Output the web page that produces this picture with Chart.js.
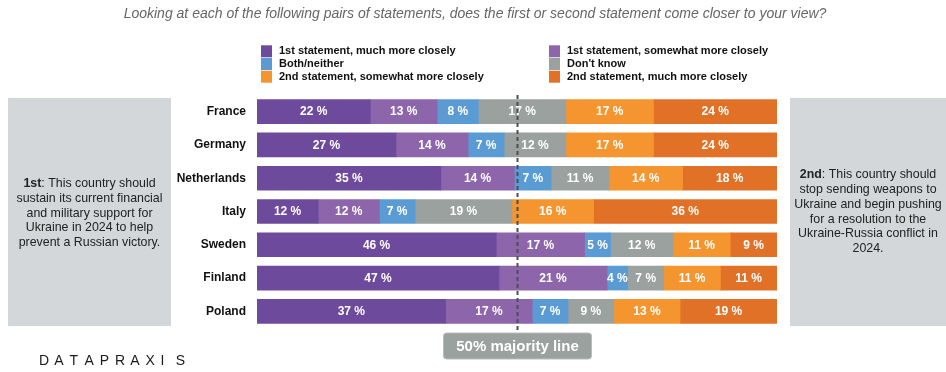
<!DOCTYPE html>
<html>
<head>
<meta charset="utf-8">
<script src="https://cdn.jsdelivr.net/npm/chart.js@4"></script>
<style>
  body { margin: 0; background: #fff; }
  #wrap { width: 946px; height: 372px; }
</style>
</head>
<body>
<div id="wrap"><canvas id="chart" width="946" height="372"></canvas></div>
<script>
const countries = ["France", "Germany", "Netherlands", "Italy", "Sweden", "Finland", "Poland"];
const firstMuch = [22, 27, 35, 12, 46, 47, 37];
const firstSomewhat = [13, 14, 14, 12, 17, 21, 17];
const bothNeither = [8, 7, 7, 7, 5, 4, 7];
const dontKnow = [17, 12, 11, 19, 12, 7, 9];
const secondSomewhat = [17, 17, 14, 16, 11, 11, 13];
const secondMuch = [24, 24, 18, 36, 9, 11, 19];

const seriesLabels = [
	"1st statement, much more closely",
	"1st statement, somewhat more closely",
	"Both/neither",
	"Don't know",
	"2nd statement, somewhat more closely",
	"2nd statement, much more closely",
];
const seriesColors = ["#6e4a9c", "#8d65ab", "#5b9bd4", "#9aa19f", "#f5952f", "#e07127"];

const FONT = "'Liberation Sans', Arial, Helvetica, sans-serif";
const allSeries = [firstMuch, firstSomewhat, bothNeither, dontKnow, secondSomewhat, secondMuch];

// rows don't sum to exactly 100, so each bar is stretched to full width
const totals = countries.map((_, i) => allSeries.reduce((s, arr) => s + arr[i], 0));

const datasets = allSeries.map((arr, k) => ({
	label: seriesLabels[k],
	data: arr.map((v, i) => (v / totals[i]) * 100),
	raw: arr,
	backgroundColor: seriesColors[k],
	borderWidth: 0,
	barThickness: 24,
}));

const leftText = ["This country should", "sustain its current financial", "and military support for", "Ukraine in 2024 to help", "prevent a Russian victory."];
const rightText = ["This country should", "stop sending weapons to", "Ukraine and begin pushing", "for a resolution to the", "Ukraine-Russia conflict in", "2024."];

function drawBoxText(ctx, lines, lead, cx, y0, lh) {
	const size = "12.4px ";
	ctx.fillStyle = "#222";
	ctx.textBaseline = "middle";
	lines.forEach((line, i) => {
		const y = y0 + i * lh;
		if (i === 0) {
			ctx.font = "bold " + size + FONT;
			const w1 = ctx.measureText(lead).width;
			ctx.font = size + FONT;
			const rest = ": " + line;
			const w2 = ctx.measureText(rest).width;
			const x = cx - (w1 + w2) / 2;
			ctx.textAlign = "left";
			ctx.font = "bold " + size + FONT;
			ctx.fillText(lead, x, y);
			ctx.font = size + FONT;
			ctx.fillText(rest, x + w1, y);
		} else {
			ctx.font = size + FONT;
			ctx.textAlign = "center";
			ctx.fillText(line, cx, y);
		}
	});
}

const decor = {
	id: "decor",
	beforeDraw(chart) {
		const ctx = chart.ctx;
		ctx.save();
		// title
		ctx.fillStyle = "#666";
		ctx.font = "italic 14px " + FONT;
		ctx.textAlign = "center";
		ctx.textBaseline = "middle";
		ctx.fillText("Looking at each of the following pairs of statements, does the first or second statement come closer to your view?", 475, 14);

		// legend, two columns
		chart.data.datasets.forEach((ds, i) => {
			const x = i % 2 === 0 ? 261 : 549;
			const y = 51.3 + Math.floor(i / 2) * 12.7;
			ctx.fillStyle = ds.backgroundColor;
			ctx.fillRect(x, y - 6, 11, 12);
			ctx.fillStyle = "#111";
			ctx.font = "bold 11px " + FONT;
			ctx.textAlign = "left";
			ctx.fillText(ds.label, x + 18, y);
		});

		// side boxes
		ctx.fillStyle = "#d3d7da";
		ctx.fillRect(8, 98, 163, 228);
		ctx.fillRect(790, 98, 160, 228);
		drawBoxText(ctx, leftText, "1st", 89.5, 183.5, 14.8);
		drawBoxText(ctx, rightText, "2nd", 868, 175, 14.7);

		// logo
		ctx.fillStyle = "#1a1a1a";
		ctx.font = "14px " + FONT;
		ctx.textAlign = "left";
		"DATAPRAXIS".split("").forEach((c, i) => {
			ctx.fillText(c, 39 + i * 15.2, 361);
		});
		ctx.restore();
	},
	afterDatasetsDraw(chart) {
		const ctx = chart.ctx;
		ctx.save();
		ctx.font = "bold 12px " + FONT;
		ctx.fillStyle = "#fff";
		ctx.textAlign = "center";
		ctx.textBaseline = "middle";
		chart.data.datasets.forEach((ds, k) => {
			chart.getDatasetMeta(k).data.forEach((bar, i) => {
				const cx = (bar.x + bar.base) / 2;
				ctx.fillText(ds.raw[i] + " %", cx, bar.y + 0.5);
			});
		});

		// 50% majority line
		const x50 = Math.round(chart.scales.x.getPixelForValue(50)) + 0.5;
		ctx.strokeStyle = "#4a4f55";
		ctx.lineWidth = 2;
		ctx.setLineDash([4, 3]);
		ctx.beginPath();
		ctx.moveTo(x50, 95);
		ctx.lineTo(x50, 333);
		ctx.stroke();
		ctx.setLineDash([]);

		ctx.fillStyle = "#9aa19f";
		ctx.strokeStyle = "#b9bebd";
		ctx.lineWidth = 1;
		ctx.beginPath();
		ctx.roundRect(x50 - 74, 333, 148, 26, 3);
		ctx.fill();
		ctx.stroke();
		ctx.fillStyle = "#fff";
		ctx.font = "bold 15px " + FONT;
		ctx.fillText("50% majority line", x50, 346.5);
		ctx.restore();
	},
};

new Chart(document.getElementById("chart"), {
	type: "bar",
	data: {
		labels: countries,
		datasets: datasets,
	},
	options: {
		indexAxis: "y",
		responsive: false,
		animation: false,
		layout: {
			padding: { left: 0, right: 169, top: 95, bottom: 44 },
		},
		plugins: {
			legend: { display: false },
			tooltip: { enabled: false },
		},
		scales: {
			x: {
				stacked: true,
				min: 0,
				max: 100,
				display: false,
			},
			y: {
				stacked: true,
				grid: { display: false, drawTicks: false },
				border: { display: false },
				ticks: {
					color: "#111",
					padding: 11,
					font: { family: FONT, size: 12, weight: "bold" },
				},
				afterFit(scale) {
					scale.width = 257;
				},
			},
		},
	},
	plugins: [decor],
});
</script>
</body>
</html>
